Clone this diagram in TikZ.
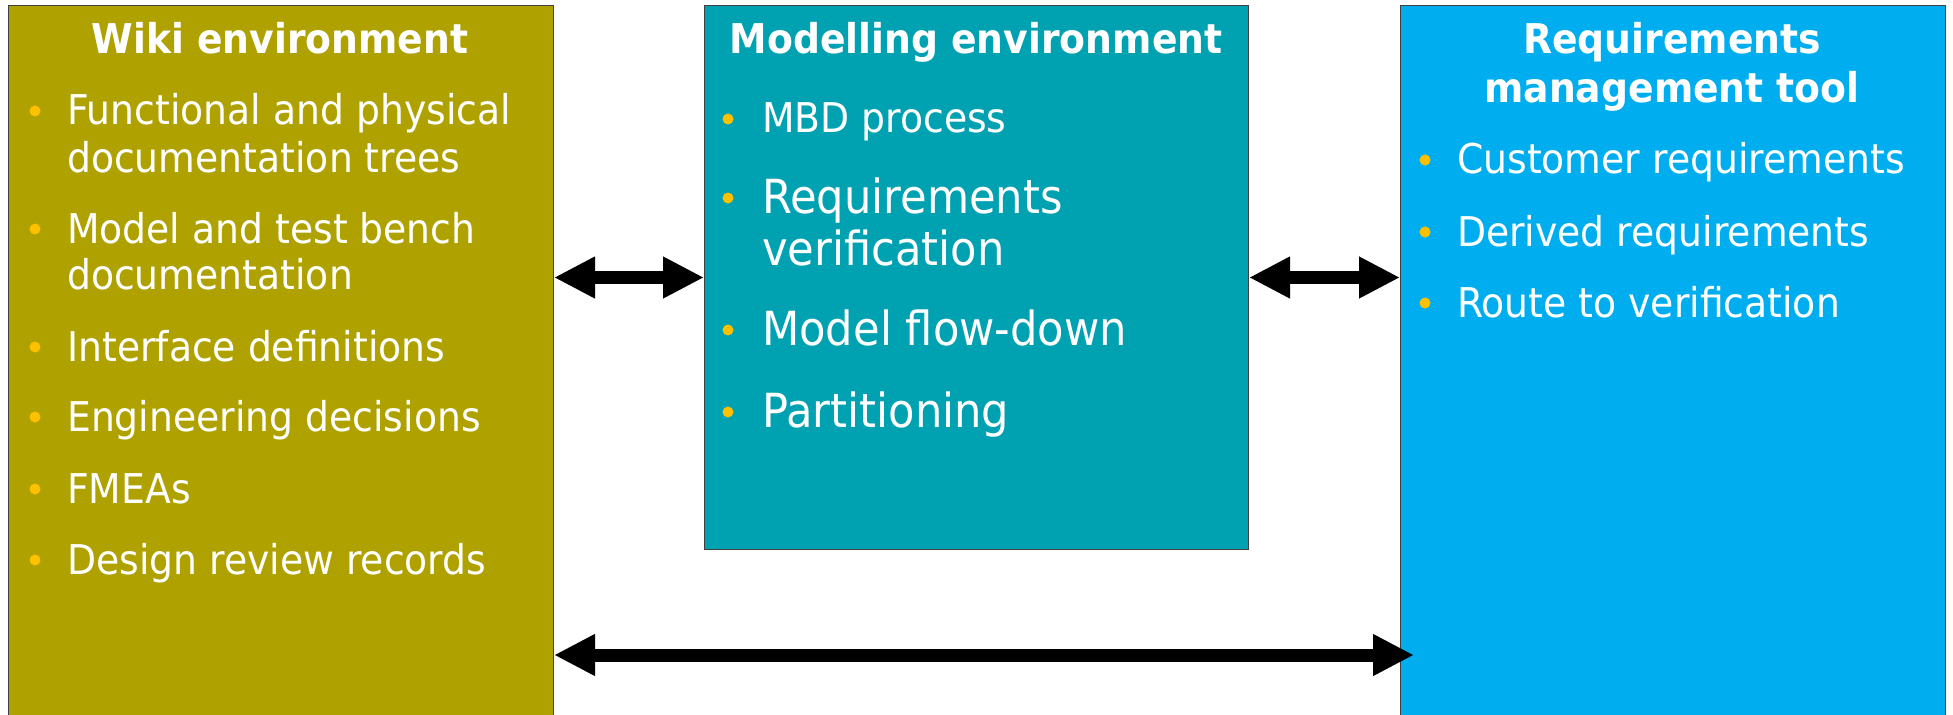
\documentclass[tikz,border=0pt]{standalone}
\usepackage{fontspec}
\setmainfont{DejaVu Sans}[FakeStretch=0.92]
\usetikzlibrary{arrows.meta}
\definecolor{wikic}{HTML}{AFA100}
\definecolor{modc}{HTML}{00A2B1}
\definecolor{reqc}{HTML}{00AEEF}
\definecolor{bulc}{HTML}{FFC000}
\tikzset{
  box/.style={draw=black!75, line width=1bp, anchor=north west, inner sep=0pt},
  ttl/.style={text=white, font=\fontsize{41bp}{48bp}\selectfont\bfseries, anchor=base, inner sep=0pt},
  itm/.style={text=white, font=\fontsize{41bp}{48bp}\selectfont, anchor=base west, inner sep=0pt},
  itmb/.style={text=white, font=\fontsize{47bp}{52bp}\selectfont, anchor=base west, inner sep=0pt},
  bul/.style={circle, fill=bulc, minimum size=11bp, inner sep=0pt},
  dbl/.style={line width=13bp, {Triangle[length=41bp,width=39bp]}-{Triangle[length=41bp,width=39bp]}},
}
\begin{document}
\begin{tikzpicture}[x=1bp,y=-1bp]
\useasboundingbox (0,0) rectangle (1953,715);
\fill[white] (0,0) rectangle (1953,715);
% boxes
\node[box, fill=wikic, minimum width=545bp, minimum height=725bp] (wiki) at (8,5) {};
\node[box, fill=modc, minimum width=544bp, minimum height=544bp] (model) at (704,5) {};
\node[box, fill=reqc, minimum width=545bp, minimum height=725bp] (req) at (1400,5) {};
% titles
\node[ttl] (wt) at (280,54) {Wiki environment};
\node[ttl] (mt) at (976,54) {Modelling environment};
\node[ttl] (rt1) at (1672,54) {Requirements};
\node[ttl] (rt2) at (1672,103) {management tool};
% wiki items
\node[bul] (wb1) at (35,111) {};
\node[itm] (w1a) at (67,125) {Functional and physical};
\node[itm] (w1b) at (67,173) {documentation trees};
\node[bul] (wb2) at (35,229) {};
\node[itm] (w2a) at (67,243) {Model and test bench};
\node[itm] (w2b) at (67,289) {documentation};
\node[bul] (wb3) at (35,347) {};
\node[itm] (w3) at (67,361) {Interface definitions};
\node[bul] (wb4) at (35,417) {};
\node[itm] (w4) at (67,431) {Engineering decisions};
\node[bul] (wb5) at (35,489) {};
\node[itm] (w5) at (67,503) {FMEAs};
\node[bul] (wb6) at (35,560) {};
\node[itm] (w6) at (67,574) {Design review records};
% modelling items
\node[bul] (mb1) at (728,119) {};
\node[itm] (m1) at (762,133) {MBD process};
\node[bul] (mb2) at (728,198) {};
\node[itmb] (m2a) at (762,213) {Requirements};
\node[itmb] (m2b) at (762,265) {verification};
\node[bul] (mb3) at (728,330) {};
\node[itmb] (m3) at (762,345) {Model flow-down};
\node[bul] (mb4) at (728,412) {};
\node[itmb] (m4) at (762,427) {Partitioning};
% requirements items
\node[bul] (rb1) at (1425,160) {};
\node[itm] (r1) at (1457,174) {Customer requirements};
\node[bul] (rb2) at (1425,232) {};
\node[itm] (r2) at (1457,246) {Derived requirements};
\node[bul] (rb3) at (1425,303) {};
\node[itm] (r3) at (1457,317) {Route to verification};
% arrows
\coordinate (low) at (0,655);
\draw[dbl] (wiki.east |- model.west) -- (model.west);
\draw[dbl] (model.east) -- (req.west |- model.east);
\draw[dbl] (wiki.east |- low) -- ([xshift=14bp]req.west |- low);
\end{tikzpicture}
\end{document}
